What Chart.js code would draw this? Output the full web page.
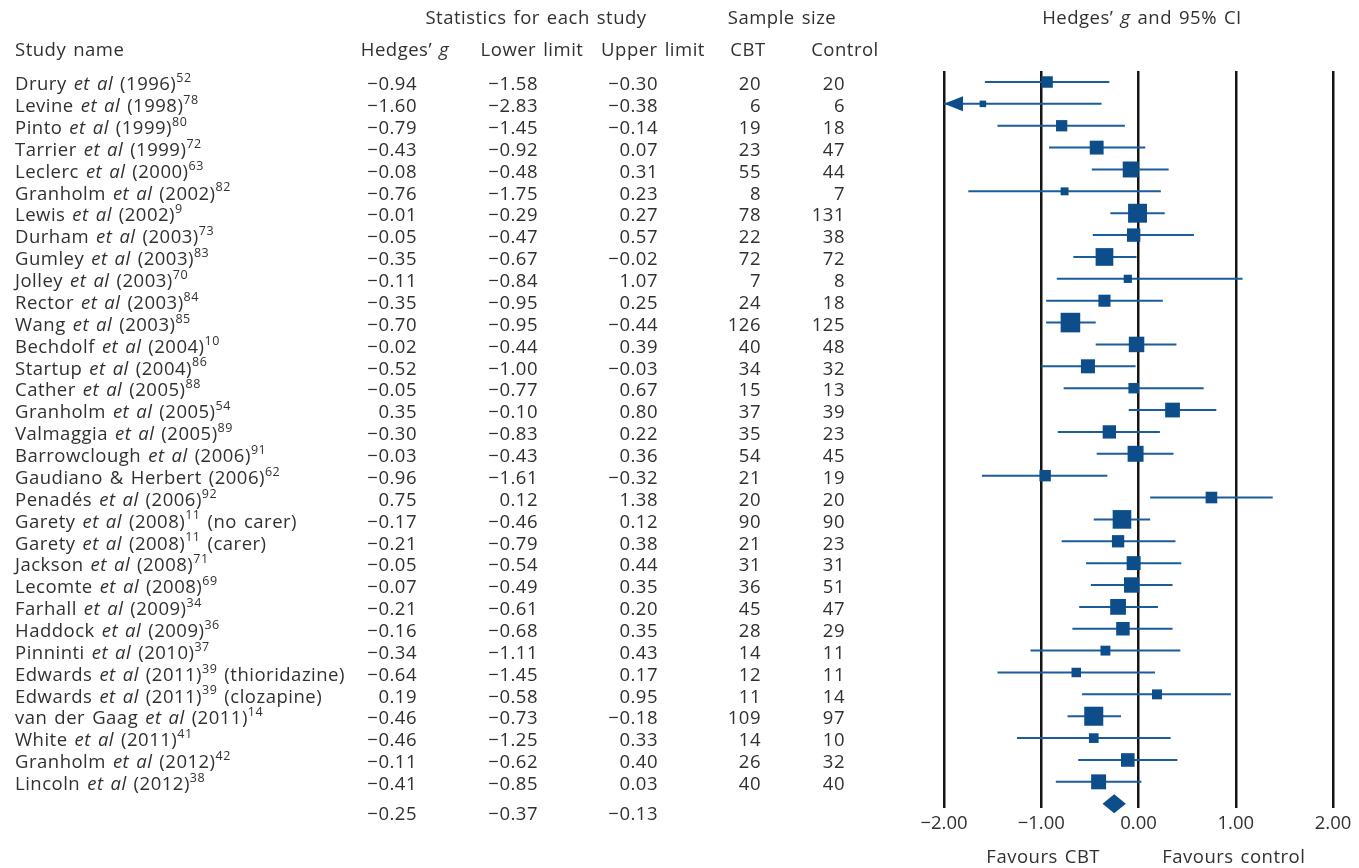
<html>
<head>
  <title>Hedges' g forest plot</title>
  <style>
    body { margin: 0; background: #fff; }
    canvas { display: block; }
  </style>
</head>
<body>
<canvas id="forest" width="1359" height="868"></canvas>
<script src="https://cdn.jsdelivr.net/npm/chart.js"></script>
<script>
  // study data
  const authors = ['Drury', 'Levine', 'Pinto', 'Tarrier', 'Leclerc', 'Granholm', 'Lewis', 'Durham', 'Gumley', 'Jolley',
    'Rector', 'Wang', 'Bechdolf', 'Startup', 'Cather', 'Granholm', 'Valmaggia', 'Barrowclough', 'Gaudiano & Herbert', 'Penadés',
    'Garety', 'Garety', 'Jackson', 'Lecomte', 'Farhall', 'Haddock', 'Pinninti', 'Edwards', 'Edwards', 'van der Gaag',
    'White', 'Granholm', 'Lincoln'];
  const years = ['1996', '1998', '1999', '1999', '2000', '2002', '2002', '2003', '2003', '2003',
    '2003', '2003', '2004', '2004', '2005', '2005', '2005', '2006', '2006', '2006',
    '2008', '2008', '2008', '2008', '2009', '2009', '2010', '2011', '2011', '2011',
    '2011', '2012', '2012'];
  const refs = ['52', '78', '80', '72', '63', '82', '9', '73', '83', '70',
    '84', '85', '10', '86', '88', '54', '89', '91', '62', '92',
    '11', '11', '71', '69', '34', '36', '37', '39', '39', '14',
    '41', '42', '38'];
  const notes = ['', '', '', '', '', '', '', '', '', '',
    '', '', '', '', '', '', '', '', '', '',
    '(no carer)', '(carer)', '', '', '', '', '', '(thioridazine)', '(clozapine)', '',
    '', '', ''];
  const hedgesG = [-0.94, -1.60, -0.79, -0.43, -0.08, -0.76, -0.01, -0.05, -0.35, -0.11,
    -0.35, -0.70, -0.02, -0.52, -0.05, 0.35, -0.30, -0.03, -0.96, 0.75,
    -0.17, -0.21, -0.05, -0.07, -0.21, -0.16, -0.34, -0.64, 0.19, -0.46,
    -0.46, -0.11, -0.41];
  const lowerLimit = [-1.58, -2.83, -1.45, -0.92, -0.48, -1.75, -0.29, -0.47, -0.67, -0.84,
    -0.95, -0.95, -0.44, -1.00, -0.77, -0.10, -0.83, -0.43, -1.61, 0.12,
    -0.46, -0.79, -0.54, -0.49, -0.61, -0.68, -1.11, -1.45, -0.58, -0.73,
    -1.25, -0.62, -0.85];
  const upperLimit = [-0.30, -0.38, -0.14, 0.07, 0.31, 0.23, 0.27, 0.57, -0.02, 1.07,
    0.25, -0.44, 0.39, -0.03, 0.67, 0.80, 0.22, 0.36, -0.32, 1.38,
    0.12, 0.38, 0.44, 0.35, 0.20, 0.35, 0.43, 0.17, 0.95, -0.18,
    0.33, 0.40, 0.03];
  const nCBT = [20, 6, 19, 23, 55, 8, 78, 22, 72, 7,
    24, 126, 40, 34, 15, 37, 35, 54, 21, 20,
    90, 21, 31, 36, 45, 28, 14, 12, 11, 109,
    14, 26, 40];
  const nControl = [20, 6, 18, 47, 44, 7, 131, 38, 72, 8,
    18, 125, 48, 32, 13, 39, 23, 45, 19, 20,
    90, 23, 31, 51, 47, 29, 11, 11, 14, 97,
    10, 32, 40];
  // pooled result
  const overallG = -0.25, overallLower = -0.37, overallUpper = -0.13;
  const xTicks = [-2, -1, 0, 1, 2];

  const FONT = '"Open Sans", sans-serif';
  const TEXT = '#303030';
  const BOX = '#0c4d8a';
  const LINE = '#1b5d9b';
  const WORD_GAP = 7;

  function fmt(v) {
    return (v < 0 ? '\u2212' : '') + Math.abs(v).toFixed(2);
  }
  function setFont(ctx, p) {
    ctx.font = (p.it ? 'italic ' : '') + (p.sup ? 12.5 : 18.5) + 'px ' + FONT;
  }
  // width of a text piece, with wider word gaps like the original typesetting
  function pieceWidth(ctx, t) {
    const words = t.split(' ');
    let w = 0;
    words.forEach((wd, k) => { w += ctx.measureText(wd).width + (k > 0 ? WORD_GAP : 0); });
    return w;
  }
  // draw a line of text made of parts (italic / superscript)
  function drawRich(ctx, parts, x, y, align) {
    y += 3;
    ctx.letterSpacing = '0.5px';
    let w = 0;
    parts.forEach(p => { setFont(ctx, p); p.w = pieceWidth(ctx, p.t); w += p.w; });
    let cx = align === 'right' ? x - w : align === 'center' ? x - w / 2 : x;
    ctx.textAlign = 'left';
    parts.forEach(p => {
      setFont(ctx, p);
      let px = cx;
      p.t.split(' ').forEach((wd, k) => {
        if (k > 0) px += WORD_GAP;
        ctx.fillText(wd, px, p.sup ? y - 6.5 : y);
        px += ctx.measureText(wd).width;
      });
      cx += p.w;
    });
  }

  // box size from the CI width (random-effects style weight)
  const boxRadius = lowerLimit.map((lo, i) => {
    const se = (upperLimit[i] - lo) / (2 * 1.96);
    return 3.0 * Math.sqrt(1 / (se * se + 0.03));
  });

  const ciPlugin = {
    id: 'ciLines',
    beforeDatasetsDraw(chart) {
      const ctx = chart.ctx, x = chart.scales.x, y = chart.scales.y;
      ctx.save();
      ctx.strokeStyle = LINE;
      ctx.fillStyle = BOX;
      ctx.lineWidth = 2;
      hedgesG.forEach((g, i) => {
        const py = y.getPixelForValue(i);
        const lo = Math.max(lowerLimit[i], x.min);
        const hi = Math.min(upperLimit[i], x.max);
        ctx.beginPath();
        ctx.moveTo(x.getPixelForValue(lo), py);
        ctx.lineTo(x.getPixelForValue(hi), py);
        ctx.stroke();
        if (lowerLimit[i] < x.min) {
          const tip = x.getPixelForValue(x.min);
          ctx.beginPath();
          ctx.moveTo(tip, py);
          ctx.lineTo(tip + 19, py - 7.5);
          ctx.lineTo(tip + 19, py + 7.5);
          ctx.closePath();
          ctx.fill();
        }
      });
      // pooled diamond
      const dy = y.getPixelForValue(hedgesG.length);
      ctx.beginPath();
      ctx.moveTo(x.getPixelForValue(overallLower), dy);
      ctx.lineTo(x.getPixelForValue(overallG), dy - 9.5);
      ctx.lineTo(x.getPixelForValue(overallUpper), dy);
      ctx.lineTo(x.getPixelForValue(overallG), dy + 9.5);
      ctx.closePath();
      ctx.fill();
      ctx.restore();
    }
  };

  const textPlugin = {
    id: 'forestText',
    afterDraw(chart) {
      const ctx = chart.ctx, x = chart.scales.x, y = chart.scales.y;
      ctx.save();
      ctx.fillStyle = TEXT;
      ctx.textBaseline = 'middle';
      // group titles
      drawRich(ctx, [{ t: 'Statistics for each study' }], 536, 16, 'center');
      drawRich(ctx, [{ t: 'Sample size' }], 782, 16, 'center');
      drawRich(ctx, [{ t: 'Hedges\u2019 ' }, { t: 'g', it: true }, { t: ' and 95% CI' }], 1142, 16, 'center');
      // column headers
      const hy = 48;
      drawRich(ctx, [{ t: 'Study name' }], 15, hy, 'left');
      drawRich(ctx, [{ t: 'Hedges\u2019 ' }, { t: 'g', it: true }], 405, hy, 'center');
      drawRich(ctx, [{ t: 'Lower limit' }], 532, hy, 'center');
      drawRich(ctx, [{ t: 'Upper limit' }], 653, hy, 'center');
      drawRich(ctx, [{ t: 'CBT' }], 748, hy, 'center');
      drawRich(ctx, [{ t: 'Control' }], 845, hy, 'center');
      // rows
      authors.forEach((a, i) => {
        const py = y.getPixelForValue(i);
        const parts = [{ t: a + ' ' }];
        if (a.indexOf('&') < 0) parts.push({ t: 'et al', it: true }, { t: ' ' });
        parts.push({ t: '(' + years[i] + ')' }, { t: refs[i], sup: true });
        if (notes[i]) parts.push({ t: ' ' + notes[i] });
        drawRich(ctx, parts, 15, py, 'left');
        drawRich(ctx, [{ t: fmt(hedgesG[i]) }], 417, py, 'right');
        drawRich(ctx, [{ t: fmt(lowerLimit[i]) }], 538, py, 'right');
        drawRich(ctx, [{ t: fmt(upperLimit[i]) }], 658, py, 'right');
        drawRich(ctx, [{ t: String(nCBT[i]) }], 761, py, 'right');
        drawRich(ctx, [{ t: String(nControl[i]) }], 845, py, 'right');
      });
      const sy = y.getPixelForValue(hedgesG.length) + 8;
      drawRich(ctx, [{ t: fmt(overallG) }], 417, sy, 'right');
      drawRich(ctx, [{ t: fmt(overallLower) }], 538, sy, 'right');
      drawRich(ctx, [{ t: fmt(overallUpper) }], 658, sy, 'right');
      // favours labels under the axis
      drawRich(ctx, [{ t: 'Favours CBT' }], x.getPixelForValue(-0.98), 855, 'center');
      drawRich(ctx, [{ t: 'Favours control' }], x.getPixelForValue(0.98), 855, 'center');
      ctx.restore();
    }
  };

  const rowStep = 21.87;
  new Chart(document.getElementById('forest'), {
    type: 'scatter',
    data: {
      datasets: [{
        data: hedgesG.map((g, i) => ({ x: g, y: i })),
        pointStyle: 'rect',
        pointRadius: boxRadius,
        backgroundColor: BOX,
        borderWidth: 0
      }]
    },
    options: {
      responsive: false,
      animation: false,
      devicePixelRatio: 1,
      layout: { padding: { left: 944, right: 26, top: 71, bottom: 0 } },
      plugins: { legend: { display: false }, tooltip: { enabled: false } },
      scales: {
        x: {
          type: 'linear',
          min: -2,
          max: 2,
          afterBuildTicks: axis => { axis.ticks = xTicks.map(v => ({ value: v })); },
          afterFit: axis => { axis.height = 60; },
          ticks: {
            callback: v => fmt(v),
            color: TEXT,
            font: { family: FONT, size: 18.5 },
            padding: 5
          },
          grid: { color: '#151515', lineWidth: 2.5, drawTicks: false },
          border: { display: false }
        },
        y: {
          display: false,
          reverse: true,
          min: -11 / rowStep,
          max: -11 / rowStep + 737 / rowStep
        }
      }
    },
    plugins: [ciPlugin, textPlugin]
  });
</script>
</body>
</html>
